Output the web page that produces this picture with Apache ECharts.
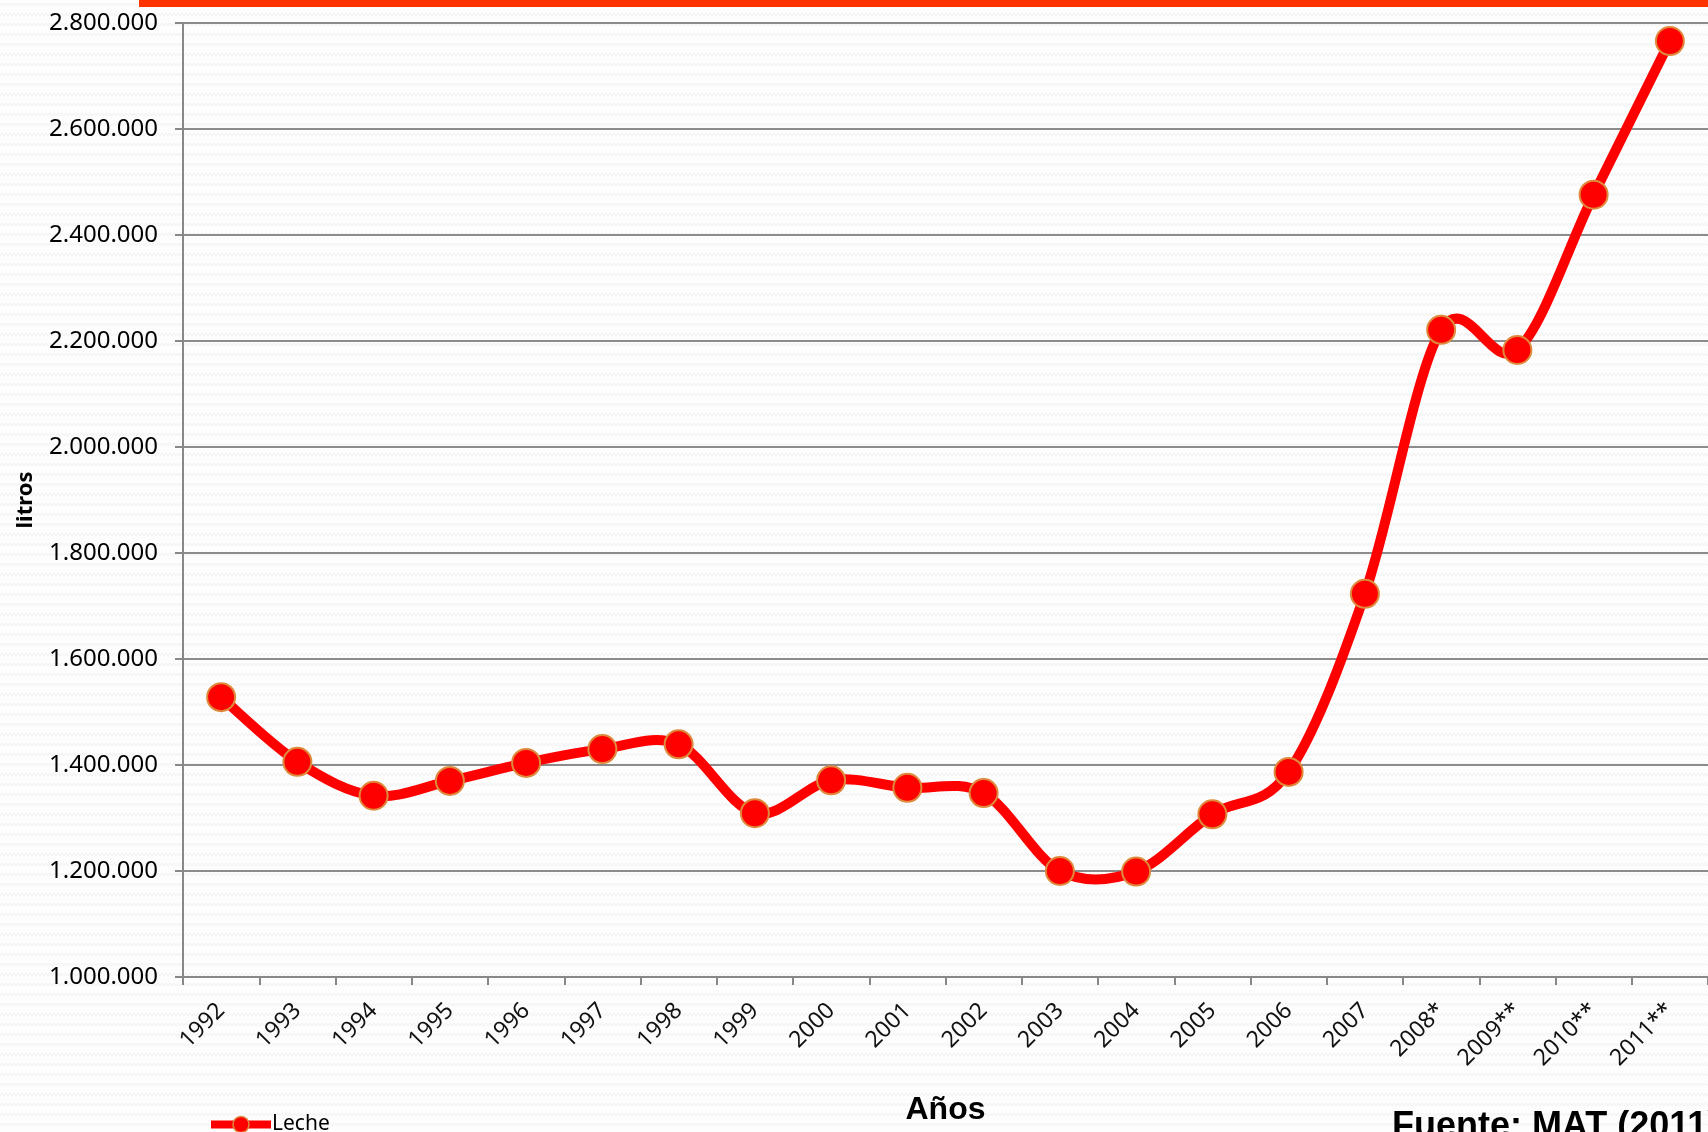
<!DOCTYPE html>
<html>
<head>
<meta charset="utf-8">
<title>Leche - litros por año</title>
<script src="https://cdn.jsdelivr.net/npm/echarts@6/dist/echarts.min.js"></script>
<style>
  html, body { margin: 0; padding: 0; background: #fdfdfd; }
  #chart { width: 1708px; height: 1132px; }
</style>
</head>
<body>
<div id="chart"></div>
<script>
// datos
const years = ["1992", "1993", "1994", "1995", "1996", "1997", "1998", "1999", "2000", "2001",
  "2002", "2003", "2004", "2005", "2006", "2007", "2008*", "2009**", "2010**", "2011**"];
const leche = [1528000, 1406000, 1342000, 1370000, 1404000, 1430000, 1439000, 1309000, 1371000, 1357000,
  1347000, 1200000, 1199000, 1307000, 1387000, 1723000, 2221000, 2183000, 2476000, 2766000];
const yMin = 1000000;
const yMax = 2800000;
const yStep = 200000;

const RED = "#ff0000";
const LINE_W = 10;

// fondo ondulado suave
function wavePattern() {
  const c = document.createElement("canvas");
  c.width = 8;
  c.height = 10;
  const ctx = c.getContext("2d");
  ctx.fillStyle = "#fdfdfd";
  ctx.fillRect(0, 0, 8, 10);
  ctx.strokeStyle = "#f1f1f1";
  ctx.lineWidth = 1;
  ctx.beginPath();
  ctx.moveTo(0, 6);
  ctx.lineTo(2, 3);
  ctx.lineTo(4, 6);
  ctx.lineTo(6, 3);
  ctx.lineTo(8, 6);
  ctx.stroke();
  return c.toDataURL();
}

const el = document.getElementById("chart");
el.style.backgroundImage = "url(" + wavePattern() + ")";

// 1234567 -> 1.234.567
function fmtMiles(v) {
  return String(v).replace(/\B(?=(\d{3})+(?!\d))/g, ".");
}

// curva suavizada tipo Excel (Catmull-Rom), tramo i -> i+1
function renderCurve(params, api) {
  const i = params.dataIndex;
  const n = leche.length;
  if (i >= n - 1) return null;
  const pt = (k) => {
    k = Math.max(0, Math.min(n - 1, k));
    return api.coord([k, leche[k]]);
  };
  const p0 = pt(i - 1), p1 = pt(i), p2 = pt(i + 1), p3 = pt(i + 2);
  return {
    type: "bezierCurve",
    shape: {
      x1: p1[0], y1: p1[1],
      x2: p2[0], y2: p2[1],
      cpx1: p1[0] + (p2[0] - p0[0]) / 6,
      cpy1: p1[1] + (p2[1] - p0[1]) / 6,
      cpx2: p2[0] - (p3[0] - p1[0]) / 6,
      cpy2: p2[1] - (p3[1] - p1[1]) / 6
    },
    style: { stroke: RED, lineWidth: LINE_W, fill: null, lineCap: "round" }
  };
}

const myChart = echarts.init(el, null, { renderer: "canvas" });
myChart.setOption({
  backgroundColor: "transparent",
  animation: false,
  grid: {
    left: 183,
    top: 23,
    right: -1,
    bottom: 155
  },
  legend: {
    left: 202,
    top: 1109,
    itemWidth: 60,
    itemHeight: 20,
    textStyle: { fontFamily: "Noto Sans", fontSize: 21, color: "#000", padding: [0, 0, 0, -4] },
    lineStyle: { color: RED, width: 8, opacity: 1 },
    itemStyle: { color: RED, borderColor: "#de8a3c", borderWidth: 1.5 },
    data: ["Leche"]
  },
  xAxis: {
    type: "category",
    data: years,
    name: "Años",
    nameLocation: "middle",
    nameGap: 117,
    nameTextStyle: { fontFamily: "Liberation Sans", fontWeight: "bold", fontSize: 32, color: "#000" },
    axisLine: { lineStyle: { color: "#888", width: 2 } },
    axisTick: { show: true, length: 8, lineStyle: { color: "#888", width: 2 } },
    axisLabel: {
      rotate: 45,
      margin: 30,
      fontFamily: "Noto Sans",
      fontSize: 23,
      color: "#111"
    }
  },
  yAxis: {
    type: "value",
    min: yMin,
    max: yMax,
    interval: yStep,
    name: "litros",
    nameLocation: "middle",
    nameGap: 146,
    nameTextStyle: { fontFamily: "Noto Sans", fontWeight: "bold", fontSize: 22, color: "#000" },
    axisLine: { show: true, lineStyle: { color: "#888", width: 2 } },
    axisTick: { show: true, length: 8, lineStyle: { color: "#888", width: 2 } },
    axisLabel: {
      margin: 25,
      fontFamily: "Noto Sans",
      fontSize: 24,
      color: "#000",
      formatter: fmtMiles
    },
    splitLine: { lineStyle: { color: "#8c8c8c", width: 2 } }
  },
  series: [
    {
      name: "curva",
      type: "custom",
      renderItem: renderCurve,
      data: leche.map((v, i) => [i, v]),
      encode: { x: 0, y: 1 },
      silent: true,
      z: 2
    },
    {
      name: "Leche",
      type: "line",
      data: leche,
      symbol: "circle",
      symbolSize: 28,
      lineStyle: { color: RED, width: LINE_W, opacity: 0 },
      itemStyle: { color: RED, borderColor: "#de8a3c", borderWidth: 2 },
      z: 3
    }
  ],
  graphic: [
    {
      type: "rect",
      left: 139,
      top: 0,
      shape: { width: 1569, height: 7 },
      style: { fill: "#ff3300" }
    },
    {
      type: "text",
      left: 1392,
      top: 1109,
      style: {
        text: "Fuente: MAT (2011)",
        font: "bold 36px 'Liberation Sans'",
        fill: "#000"
      }
    }
  ]
});
</script>
</body>
</html>
